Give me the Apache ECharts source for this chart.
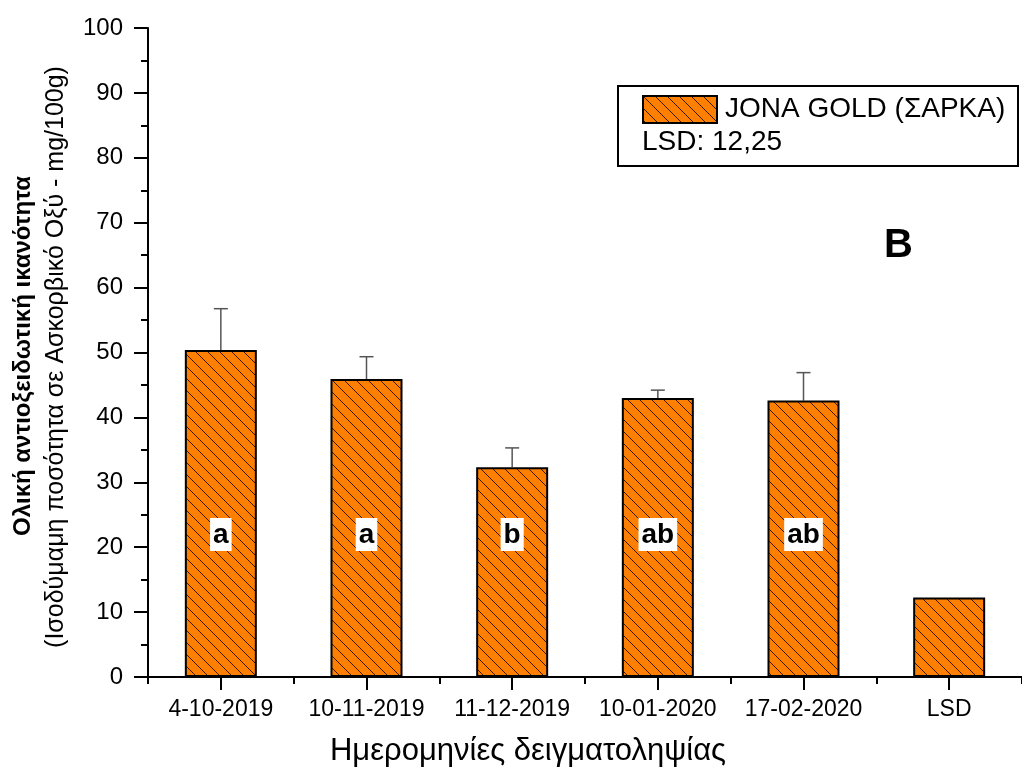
<!DOCTYPE html>
<html>
<head>
<meta charset="utf-8">
<script src="https://cdn.jsdelivr.net/npm/echarts@6/dist/echarts.min.js"></script>
<style>
html,body{margin:0;padding:0;background:#fff;}
#chart{width:1022px;height:769px;}
</style>
</head>
<body>
<div id="chart"></div>
<script>
// ---- data ----
var categories = ['4-10-2019', '10-11-2019', '11-12-2019', '10-01-2020', '17-02-2020', 'LSD'];
var means = [50.4, 45.9, 32.3, 43.0, 42.6, 12.25];
var sdUp = [6.35, 3.45, 3.0, 1.2, 4.3, null];
var letters = ['a', 'a', 'b', 'ab', 'ab', ''];
var yTicks = [0, 10, 20, 30, 40, 50, 60, 70, 80, 90, 100];
var seriesName = 'JONA GOLD (ΣΑΡΚΑ)';
var lsdText = 'LSD: 12,25';

// hatch pattern
function makeHatch() {
  var s = 12;
  var c = document.createElement('canvas');
  c.width = s; c.height = s;
  var ctx = c.getContext('2d');
  ctx.fillStyle = '#FF8000';
  ctx.fillRect(0, 0, s, s);
  ctx.strokeStyle = '#3a1a00';
  ctx.lineWidth = 1;
  ctx.beginPath();
  ctx.moveTo(-2, -2); ctx.lineTo(s + 2, s + 2);
  ctx.moveTo(-2, s - 2); ctx.lineTo(2, s + 2);
  ctx.moveTo(s - 2, -2); ctx.lineTo(s + 2, 2);
  ctx.stroke();
  return c;
}
var hatch = { image: makeHatch(), repeat: 'repeat' };

var barData = means.map(function (v, i) {
  return {
    value: v,
    label: letters[i] ? { show: true, formatter: letters[i] } : { show: false }
  };
});
var errData = [];
means.forEach(function (v, i) {
  if (sdUp[i] != null) errData.push([i, v, v + sdUp[i]]);
});

var chart = echarts.init(document.getElementById('chart'));
var FONT = '"Liberation Sans", Arial, sans-serif';
chart.setOption({
  backgroundColor: '#fff',
  animation: false,
  grid: { left: 148, right: -6, top: 28, bottom: 92, containLabel: false },
  legend: {
    left: 642, top: 95,
    padding: 0,
    icon: 'rect',
    itemWidth: 74, itemHeight: 27,
    itemGap: 0,
    data: [seriesName],
    textStyle: { fontFamily: FONT, fontSize: 28, color: '#000', padding: [0, 0, 0, 3] },
    itemStyle: { color: hatch, borderColor: '#000', borderWidth: 2 },
    selectedMode: false,
    z: 10
  },
  xAxis: [{
    type: 'category',
    data: categories,
    axisLine: { lineStyle: { color: '#000', width: 2 } },
    axisTick: { show: true, interval: 0, alignWithLabel: true, length: 13, lineStyle: { color: '#000', width: 2 } },
    axisLabel: { interval: 0, margin: 21, fontFamily: FONT, fontSize: 23, color: '#000' }
  }, {
    type: 'category',
    data: categories,
    position: 'bottom',
    axisLine: { show: false },
    axisTick: { show: true, interval: 0, length: 7, lineStyle: { color: '#000', width: 2 } },
    axisLabel: { show: false }
  }],
  yAxis: {
    type: 'value',
    min: yTicks[0], max: yTicks[yTicks.length - 1], interval: 10,
    splitLine: { show: false },
    axisLine: { show: true, lineStyle: { color: '#000', width: 2 } },
    axisTick: { show: true, length: 14, lineStyle: { color: '#000', width: 2 } },
    minorTick: { show: true, splitNumber: 2, length: 7, lineStyle: { color: '#000', width: 2 } },
    axisLabel: { margin: 25, fontFamily: FONT, fontSize: 24, color: '#000' }
  },
  series: [{
    name: seriesName,
    type: 'bar',
    xAxisIndex: 0,
    barWidth: 72,
    data: barData,
    itemStyle: { color: hatch, borderColor: '#000', borderWidth: 2 },
    label: {
      position: 'insideBottom',
      distance: 126,
      fontFamily: FONT, fontSize: 28, fontWeight: 'bold', color: '#000',
      backgroundColor: '#fff', padding: [3, 3, 2, 3]
    },
    z: 2
  }, {
    type: 'custom',
    xAxisIndex: 0,
    data: errData,
    renderItem: function (params, api) {
      var p0 = api.coord([api.value(0), api.value(1)]);
      var p1 = api.coord([api.value(0), api.value(2)]);
      var hw = 7;
      return {
        type: 'group',
        children: [{
          type: 'line',
          shape: { x1: p0[0], y1: p0[1], x2: p1[0], y2: p1[1] },
          style: { stroke: '#555', lineWidth: 1.5 }
        }, {
          type: 'line',
          shape: { x1: p1[0] - hw, y1: p1[1], x2: p1[0] + hw, y2: p1[1] },
          style: { stroke: '#555', lineWidth: 1.5 }
        }]
      };
    },
    z: 1
  }],
  graphic: [{
    type: 'rect',
    shape: { x: 618, y: 86, width: 400, height: 80 },
    style: { fill: '#fff', stroke: '#000', lineWidth: 2 },
    z: 0
  }, {
    type: 'text',
    left: 642, top: 128,
    style: { text: lsdText, font: '28px ' + FONT, fill: '#000' },
    z: 5
  }, {
    type: 'text',
    left: 884, top: 226,
    style: { text: 'B', font: 'bold 40px ' + FONT, fill: '#000' },
    z: 5
  }, {
    type: 'text',
    x: 528, y: 751,
    style: { text: 'Ημερομηνίες δειγματοληψίας', font: '31px ' + FONT, fill: '#000', align: 'center', verticalAlign: 'middle' }
  }, {
    type: 'text',
    x: 23, y: 356,
    rotation: Math.PI / 2,
    style: { text: 'Ολική αντιοξειδωτική ικανότητα', font: 'bold 24px ' + FONT, fill: '#000', align: 'center', verticalAlign: 'middle' }
  }, {
    type: 'text',
    x: 56, y: 357,
    rotation: Math.PI / 2,
    style: { text: '(Ισοδύμαμη ποσότητα σε Ασκορβικό Οξύ - mg/100g)', font: '25px ' + FONT, fill: '#000', align: 'center', verticalAlign: 'middle' }
  }]
});
</script>
</body>
</html>
